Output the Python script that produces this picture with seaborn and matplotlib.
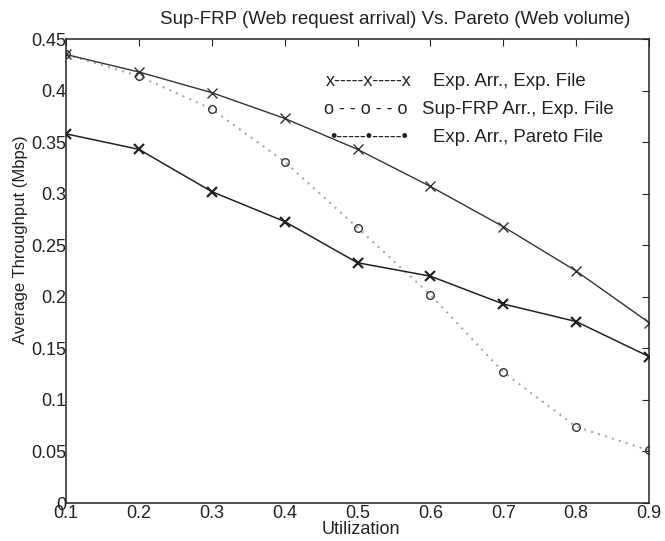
import matplotlib
matplotlib.use("Agg")
import matplotlib.pyplot as plt
import seaborn as sns
import pandas as pd

utilization = [0.1, 0.2, 0.3, 0.4, 0.5, 0.6, 0.7, 0.8, 0.9]
exp_arr_exp_file = [0.435, 0.418, 0.398, 0.373, 0.343, 0.307, 0.268, 0.225, 0.175]
supfrp_arr_exp_file = [0.435, 0.414, 0.382, 0.331, 0.267, 0.202, 0.127, 0.074, 0.051]
exp_arr_pareto_file = [0.358, 0.343, 0.302, 0.273, 0.233, 0.220, 0.193, 0.176, 0.142]
x_ticks = [0.1, 0.2, 0.3, 0.4, 0.5, 0.6, 0.7, 0.8, 0.9]
y_ticks = [0, 0.05, 0.1, 0.15, 0.2, 0.25, 0.3, 0.35, 0.4, 0.45]
y_tick_labels = ["0", "0.05", "0.1", "0.15", "0.2", "0.25", "0.3", "0.35", "0.4", "0.45"]
legend_labels = ["Exp. Arr., Exp. File", "Sup-FRP Arr., Exp. File", "Exp. Arr., Pareto File"]
legend_keys = ["x-----x-----x", "o - - o - - o", "\u2022-----\u2022-----\u2022"]
title_text = "Sup-FRP (Web request arrival) Vs. Pareto (Web volume)"

sns.set_style("white")
plt.rcParams["font.family"] = ["Liberation Sans", "DejaVu Sans"]

W, H = 665, 541
fig = plt.figure(figsize=(W / 100, H / 100), dpi=100)
L, R, T, B = 66, 649, 39, 503
ax = fig.add_axes([L / W, 1 - B / H, (R - L) / W, (B - T) / H])

df = pd.DataFrame({"u": utilization, "a": exp_arr_exp_file,
                   "b": supfrp_arr_exp_file, "c": exp_arr_pareto_file})

sns.lineplot(data=df, x="u", y="b", ax=ax, color="#a8a8a8", linestyle=(0, (1, 2.5)),
             linewidth=1.5, marker="o", markersize=5.5, markerfacecolor="none",
             markeredgecolor="#333333", markeredgewidth=1.0)
sns.lineplot(data=df, x="u", y="a", ax=ax, color="#333333", linewidth=1.0,
             marker="x", markersize=6.5, markeredgecolor="#333333", markeredgewidth=1.0)
sns.lineplot(data=df, x="u", y="c", ax=ax, color="#222222", linewidth=1.1,
             marker="x", markersize=6.5, markeredgecolor="#222222", markeredgewidth=1.6)

ax.set_xlim(0.1, 0.9)
ax.set_ylim(0, 0.45)
ax.set_xticks(x_ticks)
ax.set_xticklabels([f"{v:g}" for v in x_ticks])
ax.set_yticks(y_ticks)
ax.set_yticklabels(y_tick_labels)
ax.tick_params(direction="in", length=5, top=True, right=True, width=0.8,
               colors="#222222", labelsize=13)
ax.tick_params(axis="y", pad=0)
ax.tick_params(axis="x", pad=1.5)
for s in ax.spines.values():
    s.set_color("#222222")
    s.set_linewidth(1.1)
    s.set_visible(True)
ax.set_xlabel("")
ax.set_ylabel("")

fig.text(361 / W, 1 - 529 / H, "Utilization", ha="center", va="center",
         fontsize=13, color="#222222")
fig.text(21 / W, 1 - 240 / H, "Average Throughput (Mbps)", ha="center", va="center",
         rotation=90, fontsize=12, color="#222222")
fig.text(395 / W, 1 - 19 / H, title_text, ha="center", va="center",
         fontsize=13.5, color="#222222")

rows_y = [82, 110, 138]
key_right = [412, 408, 408]
label_left = [433, 422, 433]
for k, lab, yy, kr, ll in zip(legend_keys, legend_labels, rows_y, key_right, label_left):
    fig.text(kr / W, 1 - yy / H, k, ha="right", va="center", fontsize=13, color="#222222")
    fig.text(ll / W, 1 - yy / H, lab, ha="left", va="center", fontsize=13.4, color="#222222")

fig.savefig("out.png", dpi=100)
